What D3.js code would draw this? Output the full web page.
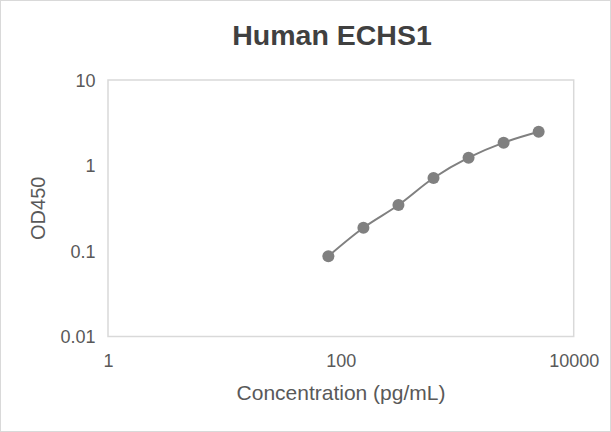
<!DOCTYPE html>
<html>
<head>
<meta charset="utf-8">
<script src="https://cdn.jsdelivr.net/npm/d3@7"></script>
<style>
  html, body { margin: 0; padding: 0; background: #fff; }
  svg { display: block; }
  text { font-family: "Liberation Sans", Arial, sans-serif; }
</style>
</head>
<body>
<svg id="chart" width="611" height="432"></svg>
<script>
// ---- data ----
const concentrations = [78.125, 156.25, 312.5, 625, 1250, 2500, 5000];
const od450 = [0.087, 0.187, 0.345, 0.714, 1.233, 1.85, 2.48];
const xTickValues = [1, 100, 10000];
const yTickValues = [0.01, 0.1, 1, 10];
const yTickLabels = ["0.01", "0.1", "1", "10"];
const title = "Human ECHS1";
const xTitle = "Concentration (pg/mL)";
const yTitle = "OD450";

const points = concentrations.map((c, i) => ({ x: c, y: od450[i] }));

const W = 611, H = 432;
const plot = { left: 108, right: 573.7, top: 80, bottom: 336.5 };

const svg = d3.select("#chart");

// outer border
svg.append("rect")
  .attr("x", 0.5).attr("y", 0.5)
  .attr("width", W - 1).attr("height", H - 1)
  .attr("fill", "#fff").attr("stroke", "#d9d9d9").attr("stroke-width", 1);

const x = d3.scaleLog().domain([1, 10000]).range([plot.left, plot.right]);
const y = d3.scaleLog().domain([0.01, 10]).range([plot.bottom, plot.top]);

// plot frame
svg.append("rect")
  .attr("x", plot.left).attr("y", plot.top)
  .attr("width", plot.right - plot.left).attr("height", plot.bottom - plot.top)
  .attr("fill", "none").attr("stroke", "#d9d9d9").attr("stroke-width", 1.5);

// x axis
const xAxis = d3.axisBottom(x).tickValues(xTickValues).tickSize(0).tickPadding(0)
  .tickFormat(d3.format("d"));
const gx = svg.append("g").attr("transform", `translate(0, ${plot.bottom})`).call(xAxis);
gx.select(".domain").remove();
gx.selectAll("text")
  .attr("y", 30).attr("dy", 0)
  .attr("fill", "#595959")
  .style("font-size", "18px")
  .style("font-family", "'Liberation Sans', Arial, sans-serif");

// y axis
const yAxis = d3.axisLeft(y).tickValues(yTickValues).tickSize(0).tickPadding(0)
  .tickFormat((d, i) => yTickLabels[i]);
const gy = svg.append("g").attr("transform", `translate(${plot.left}, 0)`).call(yAxis);
gy.select(".domain").remove();
gy.selectAll("text")
  .attr("x", -12.5).attr("dy", "0.36em")
  .attr("fill", "#595959")
  .style("font-size", "18px")
  .style("font-family", "'Liberation Sans', Arial, sans-serif");

// line
const line = d3.line()
  .x(d => x(d.x)).y(d => y(d.y))
  .curve(d3.curveCatmullRom.alpha(0.5));
svg.append("path")
  .datum(points)
  .attr("d", line)
  .attr("fill", "none")
  .attr("stroke", "#808080")
  .attr("stroke-width", 2);

// markers
svg.append("g").selectAll("circle")
  .data(points)
  .join("circle")
  .attr("cx", d => x(d.x))
  .attr("cy", d => y(d.y))
  .attr("r", 6)
  .attr("fill", "#808080");

// title
svg.append("text")
  .attr("x", 332).attr("y", 44.5)
  .attr("text-anchor", "middle")
  .attr("fill", "#404040")
  .style("font-size", "28.5px")
  .style("font-weight", "bold")
  .text(title);

// x title
svg.append("text")
  .attr("x", 341).attr("y", 400)
  .attr("text-anchor", "middle")
  .attr("fill", "#595959")
  .style("font-size", "21px")
  .text(xTitle);

// y title
svg.append("text")
  .attr("transform", `translate(45, ${(plot.top + plot.bottom) / 2}) rotate(-90)`)
  .attr("text-anchor", "middle")
  .attr("fill", "#595959")
  .style("font-size", "20px")
  .text(yTitle);
</script>
</body>
</html>
